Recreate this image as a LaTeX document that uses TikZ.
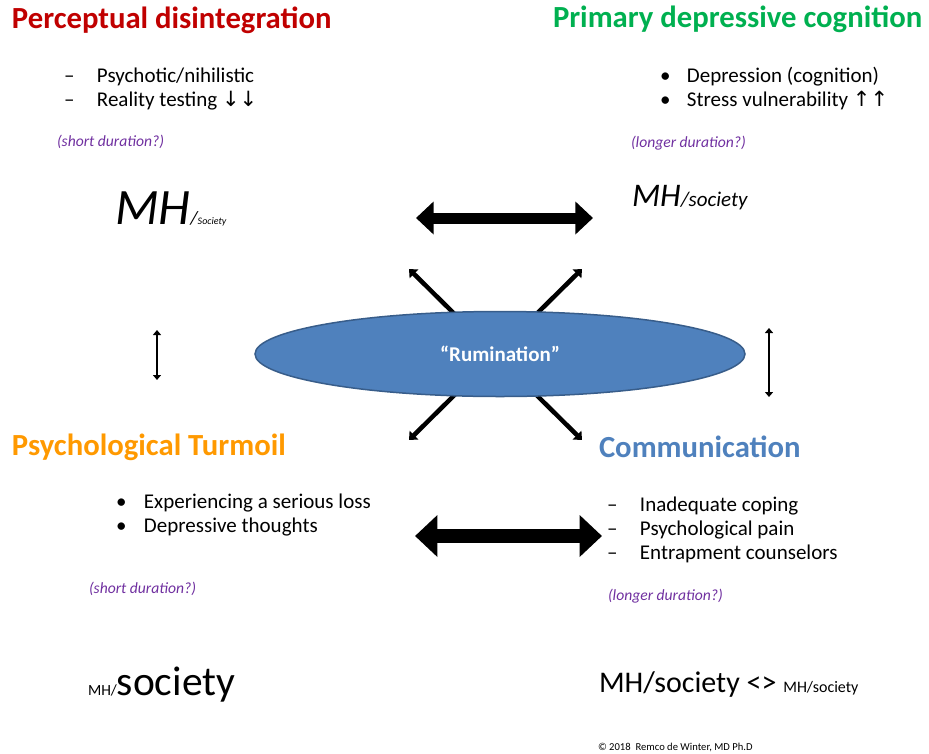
\documentclass[tikz,border=0pt]{standalone}
\usepackage{fontspec}
\setmainfont{Carlito}
\newfontfamily\symbfont{DejaVu Sans}
\usetikzlibrary{arrows.meta,shapes.geometric}

\definecolor{perceptred}{RGB}{192,0,0}
\definecolor{primarygreen}{RGB}{0,176,80}
\definecolor{turmoilorange}{RGB}{255,153,0}
\definecolor{commblue}{RGB}{79,129,189}
\definecolor{rumiline}{RGB}{56,93,138}
\definecolor{durpurple}{RGB}{112,48,160}

\tikzset{
  txt/.style={anchor=base west, inner sep=0pt, outer sep=0pt},
  quadtitle/.style={txt, font=\fontsize{30.7}{34}\selectfont\bfseries},
  listitem/.style={txt, font=\fontsize{21}{25}\selectfont},
  duration/.style={txt, text=durpurple, font=\fontsize{15.6}{18}\selectfont\itshape},
  bothblock/.style={line width=#1, {Triangle[length=1.6*#1,width=2.9*#1]}-{Triangle[length=1.6*#1,width=2.9*#1]}},
  crossarrow/.style={line width=4.5pt, {Triangle[length=7pt,width=12pt]}-{Triangle[length=7pt,width=12pt]}},
  sidearrow/.style={line width=2.6pt, {Triangle[length=5pt,width=8pt]}-{Triangle[length=5pt,width=8pt]}}
}

\begin{document}
\begin{tikzpicture}[x=1pt,y=-1pt]
\useasboundingbox (0,0) rectangle (929,753);

% quadrant titles
\node[quadtitle, text=perceptred] (percept) at (12,28) {Perceptual disintegration};
\node[quadtitle, text=primarygreen] (primary) at (553,27) {Primary depressive cognition};
\node[quadtitle, text=turmoilorange] (turmoil) at (12,455) {Psychological Turmoil};
\node[quadtitle, text=commblue] (comm) at (599,457) {Communication};

% lists
\foreach \t [count=\i] in {Psychotic/nihilistic, Reality testing {\symbfont↓↓}}
  \node[listitem] (percept\i) at (64,82+24*\i-24) {\makebox[33pt][l]{–}\t};
\foreach \t [count=\i] in {Depression (cognition), Stress vulnerability {\symbfont↑↑}}
  \node[listitem] (primary\i) at (660,82+24*\i-24) {\makebox[27pt][l]{•}\t};
\foreach \t [count=\i] in {Experiencing a serious loss, Depressive thoughts}
  \node[listitem] (turmoil\i) at (116,508+24.5*\i-24.5) {\makebox[28pt][l]{•}\t};
\foreach \t [count=\i] in {Inadequate coping, Psychological pain, Entrapment counselors}
  \node[listitem] (comm\i) at (607,511+24*\i-24) {\makebox[33pt][l]{–}\t};

\node[duration] (perceptdur) at (57,146) {(short duration?)};
\node[duration] (primarydur) at (631,147) {(longer duration?)};
\node[duration] (turmoildur) at (89,593) {(short duration?)};
\node[duration] (commdur) at (608,600) {(longer duration?)};

% MH / society
\node[txt] (mhpercept) at (115,224) {\fontsize{51}{54}\selectfont\itshape MH\fontsize{19}{20}\selectfont/\fontsize{10}{11}\selectfont Society};
\node[txt] (mhprimary) at (632,206) {\fontsize{33}{36}\selectfont\itshape MH\fontsize{21}{23}\selectfont/society};
\node[txt] (mhturmoil) at (88,695) {\fontsize{15.5}{17}\selectfont MH/\fontsize{41.5}{45}\selectfont society};
\node[txt] (mhcomm) at (599,692) {\fontsize{30}{33}\selectfont MH/society <> \fontsize{16}{18}\selectfont MH/society};
\node[txt, font=\fontsize{10.6}{12}\selectfont] (copy) at (598,750) {© 2018\ \ Remco de Winter, MD Ph.D};

% arrows
\coordinate (topl) at (416,218);
\coordinate (topr) at (593,218);
\coordinate (botl) at (415,536);
\coordinate (botr) at (602,536);
\draw[bothblock=11pt] (topl) -- (topr);
\draw[bothblock=14pt] (botl) -- (botr);

\coordinate (xnw) at (409,269);
\coordinate (xne) at (582,269);
\coordinate (xsw) at (409,440);
\coordinate (xse) at (582,440);
\draw[crossarrow] (xnw) -- (xse);
\draw[crossarrow] (xne) -- (xsw);

\node[ellipse, draw=rumiline, line width=1.5pt, fill=commblue, minimum width=490pt, minimum height=85pt, inner sep=0pt, text=white, font=\fontsize{21}{24}\selectfont\bfseries] (rumination) at (500,354) {“Rumination”};

\coordinate (lefttop) at (157,330);
\coordinate (leftbot) at (157,380);
\coordinate (righttop) at (769,328);
\coordinate (rightbot) at (769,397);
\draw[sidearrow] (lefttop) -- (leftbot);
\draw[sidearrow] (righttop) -- (rightbot);
\end{tikzpicture}
\end{document}
